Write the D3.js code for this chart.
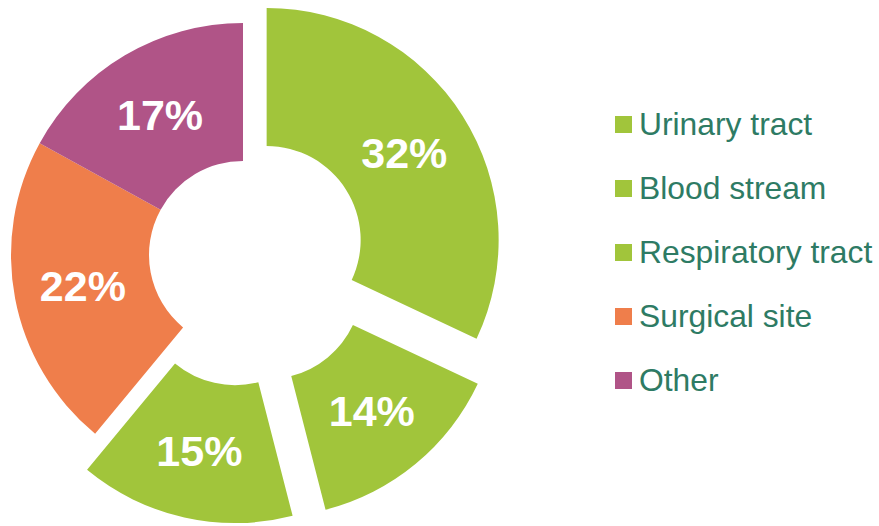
<!DOCTYPE html>
<html>
<head>
<meta charset="utf-8">
<script src="https://cdn.jsdelivr.net/npm/d3@7"></script>
<style>
  body { margin: 0; background: #fff; }
  svg text { font-family: "Liberation Sans", Arial, sans-serif; }
</style>
</head>
<body>
<div id="chart"></div>
<script>
const categories = ['Urinary tract', 'Blood stream', 'Respiratory tract', 'Surgical site', 'Other'];
const values = [32, 14, 15, 22, 17];
const colors = ['#a1c53b', '#a1c53b', '#a1c53b', '#ef7e4b', '#b05487'];
const explode = [28, 39, 37, 0, 0];

const width = 879, height = 526;
const cx = 243, cy = 255;
const inner = 94, outer = 232;

const svg = d3.select('#chart')
  .append('svg')
  .attr('width', width)
  .attr('height', height);

const data = categories.map((c, i) => ({category: c, value: values[i], color: colors[i], off: explode[i]}));

const pie = d3.pie()
  .value(d => d.value)
  .sort(null);

const arc = d3.arc()
  .innerRadius(inner)
  .outerRadius(outer);

const arcs = pie(data);

const slice = svg.append('g')
  .attr('transform', `translate(${cx}, ${cy})`)
  .selectAll('g')
  .data(arcs)
  .join('g')
  .attr('transform', d => {
    const a = (d.startAngle + d.endAngle) / 2;
    return `translate(${Math.sin(a) * d.data.off}, ${-Math.cos(a) * d.data.off})`;
  });

slice.append('path')
  .attr('d', arc)
  .attr('fill', d => d.data.color);

slice.append('text')
  .attr('transform', d => `translate(${arc.centroid(d)})`)
  .attr('text-anchor', 'middle')
  .attr('dy', '0.36em')
  .attr('fill', '#fff')
  .style('font-size', '43px')
  .style('font-weight', 'bold')
  .text(d => d.data.value + '%');

//legend
const y = d3.scalePoint()
  .domain(categories)
  .range([124, 380]);

const legend = svg.append('g')
  .selectAll('g')
  .data(data)
  .join('g')
  .attr('transform', d => `translate(615, ${y(d.category)})`);

legend.append('rect')
  .attr('x', 0)
  .attr('y', -8)
  .attr('width', 17)
  .attr('height', 17)
  .attr('fill', d => d.color);

legend.append('text')
  .attr('x', 24)
  .attr('dy', '0.36em')
  .attr('fill', '#2e7b64')
  .style('font-size', '31.8px')
  .text(d => d.category);
</script>
</body>
</html>
